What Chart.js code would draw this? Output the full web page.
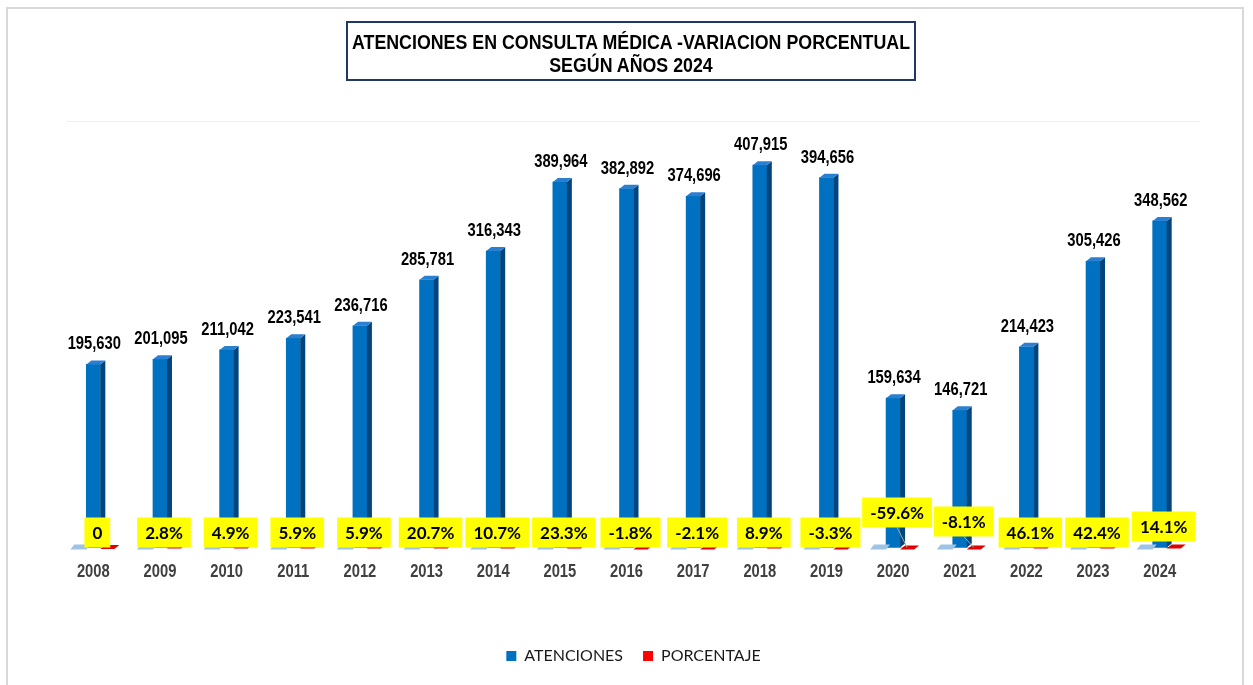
<!DOCTYPE html>
<html>
<head>
<meta charset="utf-8">
<script src="https://cdn.jsdelivr.net/npm/chart.js@4.4.1/dist/chart.umd.min.js"></script>
<style>
  html, body { margin: 0; padding: 0; background: #fff; }
  #wrap { position: relative; width: 1253px; height: 685px; overflow: hidden; }
  #frame { position: absolute; left: 6px; top: 7px; width: 1238px; height: 700px; border: 2px solid #d9d9d9; box-sizing: border-box; }
  #title {
    position: absolute; left: 346px; top: 21px; width: 570px; height: 60px;
    border: 2px solid #1f3864; box-sizing: border-box; overflow: visible;
    font-family: 'Liberation Sans', Arial, sans-serif;
    font-weight: bold; font-size: 20px; line-height: 23px; color: #000; padding-top: 8px;
  }
  #title div {
    width: 700px; margin-left: -67px; text-align: center; white-space: nowrap;
    transform: scaleX(0.89); transform-origin: 350px 0;
  }
  canvas { position: absolute; left: 0; top: 0; }
</style>
</head>
<body>
<div id="wrap">
  <div id="frame"></div>
  <canvas id="chart" width="1253" height="685"></canvas>
  <div id="title"><div>ATENCIONES EN CONSULTA MÉDICA -VARIACION PORCENTUAL</div><div>SEGÚN AÑOS 2024</div></div>
</div>
<script>
// data
const years = ['2008', '2009', '2010', '2011', '2012', '2013', '2014', '2015', '2016',
  '2017', '2018', '2019', '2020', '2021', '2022', '2023', '2024'];
const atenciones = [195630, 201095, 211042, 223541, 236716, 285781, 316343, 389964, 382892,
  374696, 407915, 394656, 159634, 146721, 214423, 305426, 348562];
const porcentaje = [0, 2.8, 4.9, 5.9, 5.9, 20.7, 10.7, 23.3, -1.8, -2.1, 8.9, -3.3, -59.6, -8.1, 46.1, 42.4, 14.1];

// a few percentage boxes were dragged up in the original
const labelLift = { '2020': 20, '2021': 11, '2024': 6 };

const DX = 5, DY = 4;
const SQUEEZE = 0.82; // no narrow font installed, so squeeze Liberation Sans

function poly(ctx, pts, color) {
  ctx.beginPath();
  ctx.moveTo(pts[0][0], pts[0][1]);
  for (let i = 1; i < pts.length; i++) ctx.lineTo(pts[i][0], pts[i][1]);
  ctx.closePath();
  ctx.fillStyle = color;
  ctx.fill();
}

function narrowText(ctx, txt, x, y) {
  ctx.save();
  ctx.translate(x, y);
  ctx.scale(SQUEEZE, 1);
  ctx.fillText(txt, 0, 0);
  ctx.restore();
}

const fake3d = {
  id: 'fake3d',
  afterDatasetsDraw(chart) {
    const ctx = chart.ctx;
    const blue = chart.getDatasetMeta(0).data;
    const red = chart.getDatasetMeta(1).data;
    const xScale = chart.scales.x;
    ctx.save();

    // blue bars: floor shadow, side and top faces
    blue.forEach((bar) => {
      const l = bar.x - bar.width / 2, r = bar.x + bar.width / 2;
      poly(ctx, [[l - 16, bar.base + 2], [l, bar.base + 2], [l + 4, bar.base - 3], [l - 12, bar.base - 3]], '#9dc3e6');
      poly(ctx, [[r, bar.y], [r + DX, bar.y - DY], [r + DX, bar.base - DY], [r, bar.base]], '#00457c');
      poly(ctx, [[l, bar.y], [r, bar.y], [r + DX, bar.y - DY], [l + DX, bar.y - DY]], '#2b7fd0');
    });

    // red bars are flat at this scale, only the top face shows
    red.forEach((bar) => {
      const l = bar.x - bar.width / 2, r = bar.x + bar.width / 2;
      poly(ctx, [[l, bar.base + 1], [r, bar.base + 1], [r + DX, bar.base - DY + 1], [l + DX, bar.base - DY + 1]], '#e00000');
    });

    // values over the blue bars
    ctx.font = 'bold 18px "Liberation Sans", Arial, sans-serif';
    ctx.fillStyle = '#000';
    ctx.textAlign = 'center';
    ctx.textBaseline = 'alphabetic';
    blue.forEach((bar, i) => {
      narrowText(ctx, atenciones[i].toLocaleString('en-US'), bar.x + 1, bar.y - 15);
    });

    // year labels under the axis
    ctx.fillStyle = '#404040';
    ctx.font = 'bold 18px "Liberation Sans", Arial, sans-serif';
    ctx.textBaseline = 'middle';
    years.forEach((y, i) => {
      narrowText(ctx, y, xScale.getPixelForValue(i) - 7, xScale.top + 24);
    });

    // yellow percentage boxes
    ctx.font = 'bold 17px Lato, sans-serif';
    porcentaje.forEach((p, i) => {
      const txt = p === 0 ? '0' : p.toFixed(1) + '%';
      const w = ctx.measureText(txt).width + 16;
      const h = 30;
      const base = blue[i].base;
      const cx = xScale.getPixelForValue(i) - 3;
      const cy = base - 15 - (labelLift[years[i]] || 0);
      if (labelLift[years[i]] > 10) {
        ctx.strokeStyle = '#a6a6a6';
        ctx.lineWidth = 1;
        ctx.beginPath();
        ctx.moveTo(cx, cy + h / 2);
        ctx.lineTo(red[i].x, base);
        ctx.stroke();
      }
      ctx.fillStyle = '#ffff00';
      ctx.fillRect(cx - w / 2, cy - h / 2, w, h);
      ctx.fillStyle = '#000';
      ctx.fillText(txt, cx, cy + 1);
    });
    ctx.restore();
  }
};

new Chart(document.getElementById('chart'), {
  type: 'bar',
  data: {
    labels: years,
    datasets: [
      { label: 'ATENCIONES', data: atenciones, backgroundColor: '#0070c0', barThickness: 14 },
      { label: 'PORCENTAJE', data: porcentaje, backgroundColor: '#ff0000', barThickness: 14 }
    ]
  },
  options: {
    responsive: false,
    animation: false,
    layout: { padding: { top: 121, left: 67, right: 53, bottom: 11 } },
    plugins: {
      title: { display: false },
      tooltip: { enabled: false },
      legend: {
        position: 'bottom',
        labels: {
          boxWidth: 10, boxHeight: 10, padding: 20,
          color: '#1a1a1a',
          font: { family: 'Lato, sans-serif', size: 16 }
        }
      }
    },
    scales: {
      x: {
        grid: { display: false, drawTicks: false },
        border: { display: false },
        ticks: { display: false },
        afterFit(scale) { scale.height = 80; }
      },
      y: {
        min: 0,
        max: 455000,
        border: { display: false },
        ticks: { display: false, stepSize: 455000 },
        grid: {
          drawTicks: false,
          color: (c) => (c.tick && c.tick.value === 455000 ? '#efefef' : 'rgba(0,0,0,0)')
        }
      }
    }
  },
  plugins: [fake3d]
});
</script>
</body>
</html>
